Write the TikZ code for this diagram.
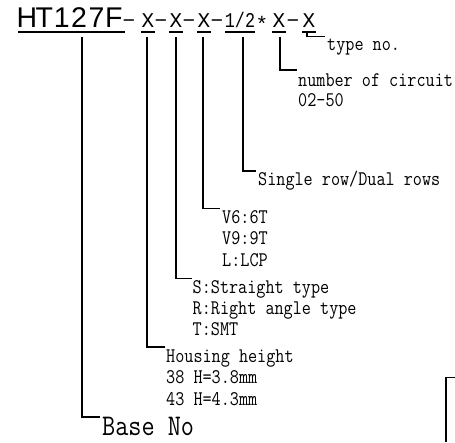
\documentclass[tikz,border=0pt]{standalone}
\usepackage{fontspec}
\newfontfamily\descfont[FakeStretch=0.85]{Latin Modern Mono}
\newfontfamily\hdrfont{Liberation Sans}
\newfontfamily\sfxfont{Liberation Mono}
\newfontfamily\sfxcond[FakeStretch=0.8]{Liberation Mono}
\newcommand{\hcell}[1]{\makebox[17.4pt]{#1}}
\begin{document}
\begin{tikzpicture}[x=1pt,y=1pt,
  conn/.style={line width=1.3pt},
  uline/.style={line width=1.1pt},
  desc/.style={font=\descfont\fontsize{20.8}{20.8}\selectfont, anchor=base west, inner sep=0pt},
  big/.style={font=\descfont\fontsize{30}{30}\selectfont, anchor=base west, inner sep=0pt},
  hdr/.style={font=\hdrfont\fontsize{28.5}{28.5}\selectfont, anchor=base west, inner sep=0pt},
  sfx/.style={font=\sfxfont\fontsize{21}{21}\selectfont, anchor=base, inner sep=0pt}]
\useasboundingbox (0,0) rectangle (455,-442);
% header
\node[hdr] (base) at (18,-27.5) {\hcell{H}\hcell{T}\hcell{1}\hcell{2}\hcell{7}\hcell{F}};
\node[sfx] (d1) at (129,-27.5) {−};
\node[sfx] (x1) at (148,-27.5) {X};
\node[sfx] (d2) at (161,-27.5) {−};
\node[sfx] (x2) at (176,-27.5) {X};
\node[sfx] (d3) at (189,-27.5) {−};
\node[sfx] (x3) at (204,-27.5) {X};
\node[sfx] (d4) at (217,-27.5) {−};
\node[sfx, font=\sfxcond\fontsize{21}{21}\selectfont] (half) at (240,-27.5) {1/2};
\node[sfx] (star) at (262,-31) {*};
\node[sfx] (x4) at (279,-27.5) {X};
\node[sfx] (d5) at (293,-27.5) {−};
\node[sfx] (x5) at (309,-27.5) {X};
% underlines
\draw[uline] (18,-32) -- (125,-32);
\draw[uline] (141,-32) -- (155,-32);
\draw[uline] (169,-32) -- (183,-32);
\draw[uline] (197,-32) -- (211,-32);
\draw[uline] (225,-32) -- (255,-32);
\draw[uline] (272,-32) -- (286,-32);
\draw[uline] (302,-32) -- (316,-32);
% descriptions
\node[desc] (ty) at (327,-50) {type no.};
\node[desc] (nc1) at (298,-86) {number of circuit};
\node[desc] (nc2) at (298,-106) {02-50};
\node[desc] (sr) at (258,-185) {Single row/Dual rows};
\node[desc] (v1) at (222,-223) {V6:6T};
\node[desc] (v2) at (222,-244.5) {V9:9T};
\node[desc] (v3) at (222,-266) {L:LCP};
\node[desc] (s1) at (192.5,-293) {S:Straight type};
\node[desc] (s2) at (192.5,-314) {R:Right angle type};
\node[desc] (s3) at (192.5,-335) {T:SMT};
\node[desc] (h1) at (166,-362) {Housing height};
\node[desc] (h2) at (166,-383.5) {38 H=3.8mm};
\node[desc] (h3) at (166,-405) {43 H=4.3mm};
\node[big] (bn) at (102,-435) {Base No};
% connector coordinates
\coordinate (c0a) at (82,-37);   \coordinate (c0b) at (100,-417);
\coordinate (c1a) at (147,-37);  \coordinate (c1b) at (165,-347);
\coordinate (c2a) at (176,-37);  \coordinate (c2b) at (192,-278.3);
\coordinate (c3a) at (203,-37);  \coordinate (c3b) at (220,-208.3);
\coordinate (c4a) at (243,-37);  \coordinate (c4b) at (256,-171);
\coordinate (c5a) at (280,-37);  \coordinate (c5b) at (297,-70);
\coordinate (c6a) at (307,-32);  \coordinate (c6b) at (325,-36.7);
\draw[conn] (c0a) |- (c0b);
\draw[conn] (c1a) |- (c1b);
\draw[conn] (c2a) |- (c2b);
\draw[conn] (c3a) |- (c3b);
\draw[conn] (c4a) |- (c4b);
\draw[conn] (c5a) |- (c5b);
\draw[conn] (c6a) |- (c6b);
% partial frame at bottom right
\coordinate (fa) at (446,-442); \coordinate (fb) at (455,-377.3);
\draw[conn] (fa) |- (fb);
\end{tikzpicture}
\end{document}
